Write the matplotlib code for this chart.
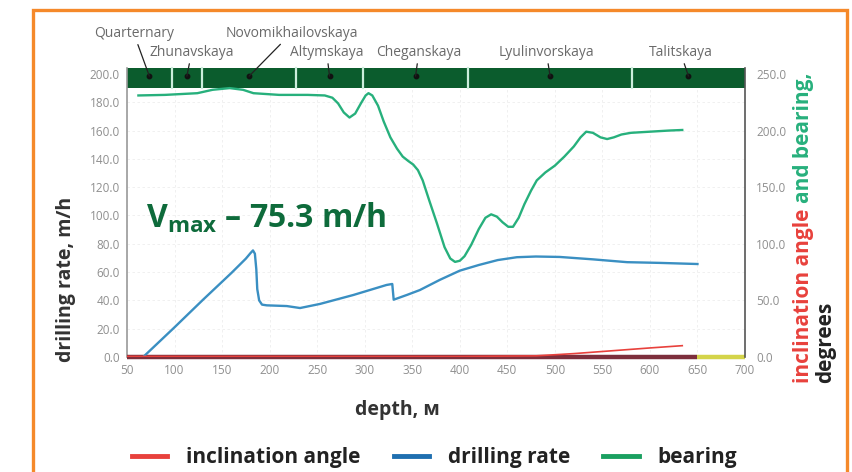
import numpy as np
import matplotlib
matplotlib.use('Agg')
import matplotlib.pyplot as plt
from matplotlib.patches import Rectangle
from matplotlib.lines import Line2D

plt.rcParams['font.family'] = ['Open Sans', 'DejaVu Sans']
plt.rcParams['mathtext.fontset'] = 'custom'
plt.rcParams['mathtext.rm'] = 'Open Sans'
plt.rcParams['mathtext.bf'] = 'Open Sans:bold'

# formacii (granicy po glubine, m)
formations = ['Quarternary', 'Zhunavskaya', 'Novomikhailovskaya', 'Altymskaya',
              'Cheganskaya', 'Lyulinvorskaya', 'Talitskaya']
form_edges = [50, 97, 129, 228, 298, 409, 581, 700]

# skorost burenia, m/h
rate_depth = [67, 100, 130, 160, 175, 180, 182.5, 184.5, 186, 187, 189, 192, 197,
              218, 232, 253, 288, 323, 329, 330.5, 345, 358, 379, 400, 420, 440,
              460, 480, 505, 540, 576, 610, 650]
rate_vals = [0, 21, 40.5, 59.5, 69.5, 73.5, 75.3, 73, 62, 48, 40, 37, 36.5,
             36, 34.6, 37.5, 43.8, 50.9, 51.6, 40.5, 44, 47.3, 54.5, 61, 65, 68.5,
             70.5, 71, 70.7, 69, 67, 66.5, 65.7]
v_max = 75.3

# azimut, grad
bear_depth = [62, 90, 124, 140, 158, 172, 183, 210, 240, 258, 266, 272, 278, 284,
              290, 296, 301, 304, 308, 314, 320, 327, 334, 340, 346, 351, 356, 361,
              368, 376, 384, 390, 395, 400, 405, 412, 420, 427, 433, 439, 445, 451,
              456, 462, 468, 475, 481, 490, 500, 510, 520, 527, 533, 540, 548, 555,
              562, 570, 580, 600, 620, 634]
bear_vals = [231, 231.5, 233, 236, 237.5, 236, 233, 231.5, 231.5, 231, 229, 224,
             216, 211.5, 215, 224, 231, 233, 231, 222, 208, 194, 184, 177, 173, 170,
             165, 156, 138, 118, 97, 87, 84, 85, 89, 99, 113, 123, 126, 124, 119,
             115, 115, 123, 135, 147, 156, 163, 169, 177, 186, 194, 199, 198, 194,
             192.5, 194, 196.5, 198, 199, 200, 200.5]

# zenitnyi ugol, grad
incl_depth = [50, 200, 400, 480, 520, 560, 600, 634]
incl_vals = [0.5, 0.5, 0.5, 1, 3, 5.5, 8, 10]

# nizhnyaya polosa po osi
base_edges = [50, 650, 700]
base_colors = ['#7d2f3c', '#d4d44a']

c_red = '#e8413c'
c_blue = '#3a8fc2'
c_green = '#27b07c'
c_dark = '#0b5c2d'

fig = plt.figure(figsize=(8.52, 4.72), dpi=100)
fig.patch.set_facecolor('white')

# oranzhevaya ramka
fig.patches.append(Rectangle((33 / 852, -0.1), (847 - 33) / 852, 0.1 + (472 - 10) / 472,
                             transform=fig.transFigure, fill=False,
                             edgecolor='#f5892a', lw=2.4))

ax = fig.add_axes([127 / 852, (472 - 357) / 472, 618 / 852, 289 / 472])
ax.set_xlim(50, 700)
ax.set_ylim(0, 204.2)
ax2 = ax.twinx()
ax2.set_ylim(0, 204.2 * 1.25)

ax.set_xticks(np.arange(50, 701, 50))
ax.set_yticks(np.arange(0, 201, 20))
ax.set_yticklabels(['%.1f' % v for v in np.arange(0, 201, 20)])
ax2.set_yticks(np.arange(0, 251, 50))
ax2.set_yticklabels(['%.1f' % v for v in np.arange(0, 251, 50)])

for a in (ax, ax2):
    a.tick_params(length=0, labelsize=8.5, labelcolor='#8f8f8f', pad=5)
    for s in a.spines.values():
        s.set_visible(False)
ax2.tick_params(pad=8)
ax.spines['left'].set_visible(True)
ax.spines['left'].set_color('#9a9a9a')
ax.spines['left'].set_linewidth(1.2)
ax2.spines['right'].set_visible(True)
ax2.spines['right'].set_color('#555555')
ax2.spines['right'].set_linewidth(1.2)

ax.grid(True, color='#eeeeee', ls=(0, (3, 3)), lw=0.6)
ax.set_axisbelow(True)

# polosa formacii
xt = ax.get_xaxis_transform()
for i in range(len(formations)):
    ax.add_patch(Rectangle((form_edges[i], 0.931), form_edges[i + 1] - form_edges[i], 0.069,
                           transform=xt, facecolor=c_dark, edgecolor='none', clip_on=False))
for e in form_edges[1:-1]:
    ax.plot([e, e], [0.931, 1.0], transform=xt, color='#cdeedd', lw=1.6, clip_on=False)

label_x = [57, 118, 223, 260, 357, 491, 632]
label_y = [1.121, 1.055, 1.121, 1.055, 1.055, 1.055, 1.055]
for i, name in enumerate(formations):
    cx = (form_edges[i] + form_edges[i + 1]) / 2
    ax.plot(cx, 0.972, 'o', ms=3.2, color='#111111', transform=xt, clip_on=False)
    ax.annotate(name, xy=(cx, 0.972), xycoords=xt, xytext=(label_x[i], label_y[i]),
                textcoords=xt, ha='center', va='center', fontsize=10, color='#6a6a6a',
                arrowprops=dict(arrowstyle='-', color='#222222', lw=0.9, shrinkA=1, shrinkB=0))

# linii
for i in range(len(base_colors)):
    ax.plot([base_edges[i], base_edges[i + 1]], [0, 0], color=base_colors[i], lw=3.2,
            solid_capstyle='butt', clip_on=False, zorder=3)
ax.plot(rate_depth, rate_vals, color=c_blue, lw=1.7, zorder=4, solid_joinstyle='round')
ax2.plot(bear_depth, bear_vals, color=c_green, lw=1.7, zorder=4, solid_joinstyle='round')
ax2.plot(incl_depth, incl_vals, color=c_red, lw=1.2, zorder=5)

ax.text(0.031, 0.481, r'$\mathbf{V_{max}}$' + ' – %.1f m/h' % v_max, transform=ax.transAxes,
        ha='left', va='center', fontsize=23, fontweight='bold', color='#0e6b3b')

ax.set_ylabel('drilling rate, m/h', fontsize=14, fontweight='bold', color='#333333')
ax.yaxis.set_label_coords(-0.083, 0.27)
ax.set_xlabel('depth, м', fontsize=14, fontweight='bold', color='#333333')
ax.xaxis.set_label_coords(0.437, -0.150)

# podpis pravoy osi raznymi cvetami
fig.canvas.draw()
r = fig.canvas.get_renderer()
t1 = fig.text(803 / 852, (472 - 383) / 472, 'inclination angle', rotation=90, ha='center',
              va='bottom', fontsize=15, fontweight='bold', color=c_red)
bb = t1.get_window_extent(renderer=r)
fig.text(803 / 852, (bb.y1 + 6) / fig.bbox.height, 'and bearing,', rotation=90, ha='center',
         va='bottom', fontsize=15, fontweight='bold', color=c_green)
fig.text(826 / 852, (472 - 383) / 472, 'degrees', rotation=90, ha='center',
         va='bottom', fontsize=15, fontweight='bold', color='#222222')

handles = [Line2D([], [], color=c_red, lw=3.5),
           Line2D([], [], color='#1f6fb0', lw=3.5),
           Line2D([], [], color='#1aa060', lw=3.5)]
fig.legend(handles, ['inclination angle', 'drilling rate', 'bearing'], ncol=3,
           loc='center', bbox_to_anchor=(0.51, 0.03), frameon=False,
           prop={'size': 15, 'weight': 'bold'}, handlelength=1.7, handletextpad=0.9,
           columnspacing=1.6, labelcolor='#222222')

fig.savefig('out.png', dpi=100)
